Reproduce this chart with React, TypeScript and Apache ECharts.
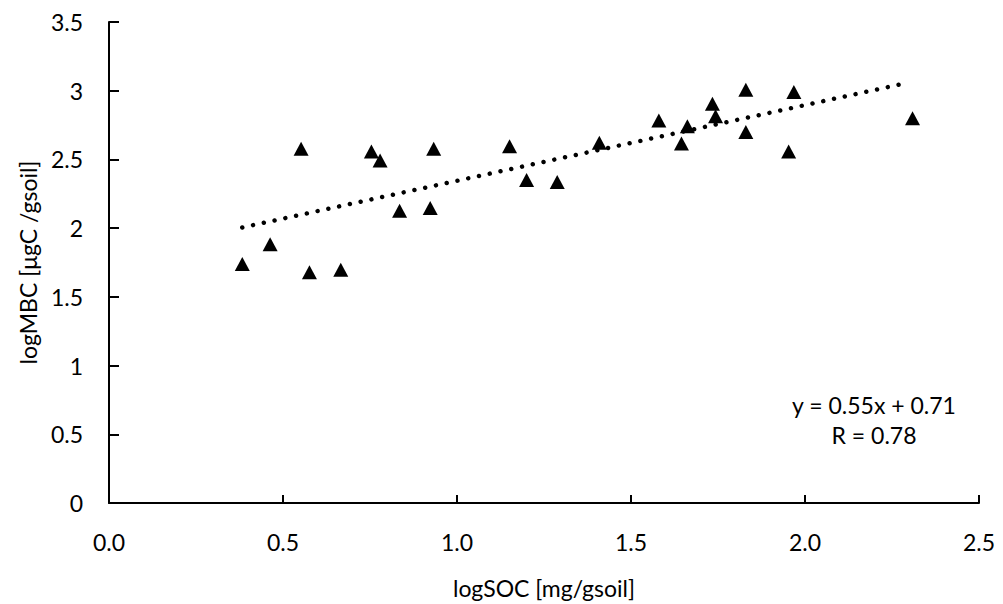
import React, { useEffect, useRef } from "react";
import * as echarts from "echarts";

const socValues = [0.383, 0.463, 0.552, 0.576, 0.666, 0.754, 0.779, 0.835, 0.923, 0.933, 1.151, 1.2, 1.288, 1.409, 1.58, 1.645, 1.662, 1.734, 1.743, 1.83, 1.83, 1.953, 1.968, 2.309];
const mbcValues = [1.739, 1.882, 2.577, 1.679, 1.698, 2.558, 2.493, 2.126, 2.147, 2.577, 2.596, 2.35, 2.336, 2.621, 2.783, 2.616, 2.741, 2.906, 2.814, 3.007, 2.7, 2.558, 2.99, 2.799];
const trendX = [0.383, 2.283];
const trendY = [2.005, 3.051];
const equationLines = ["y = 0.55x + 0.71", "R = 0.78"];
const xTitle = "logSOC [mg/gsoil]";
const yTitle = "logMBC [μgC /gsoil]";

const FONT = "Lato, 'Open Sans', sans-serif";
const FS = 23;

export default function App() {
  const ref = useRef<HTMLDivElement>(null);
  useEffect(() => {
    document.body.style.margin = "0";
    if (!ref.current) return;
    const chart = echarts.init(ref.current, null, { renderer: "svg" });
    const points = socValues.map((x, i) => [x, mbcValues[i]]);
    const trend = trendX.map((x, i) => [x, trendY[i]]);
    chart.setOption({
      animation: false,
      backgroundColor: "#ffffff",
      textStyle: { fontFamily: FONT },
      grid: { left: 109, right: 24, top: 22, bottom: 99, containLabel: false },
      xAxis: {
        type: "value",
        min: 0,
        max: 2.5,
        interval: 0.5,
        name: xTitle,
        nameLocation: "middle",
        nameGap: 73,
        nameTextStyle: { fontSize: FS, color: "#000", fontFamily: FONT },
        axisLine: { show: true, onZero: false, lineStyle: { color: "#000", width: 2 } },
        axisTick: { show: true, inside: true, length: 8, lineStyle: { color: "#000", width: 2 } },
        axisLabel: {
          fontSize: FS,
          color: "#000",
          fontFamily: FONT,
          margin: 27,
          formatter: (v: number) => v.toFixed(1),
        },
        splitLine: { show: false },
      },
      yAxis: {
        type: "value",
        min: 0,
        max: 3.5,
        interval: 0.5,
        name: yTitle,
        nameLocation: "middle",
        nameGap: 69,
        nameRotate: 90,
        nameTextStyle: { fontSize: FS, color: "#000", fontFamily: FONT },
        axisLine: { show: true, onZero: false, lineStyle: { color: "#000", width: 2 } },
        axisTick: { show: true, inside: true, length: 10, lineStyle: { color: "#000", width: 2 } },
        axisLabel: { fontSize: FS, color: "#000", fontFamily: FONT, margin: 26 },
        splitLine: { show: false },
      },
      series: [
        {
          type: "scatter",
          data: points,
          symbol: "triangle",
          symbolSize: [15, 14],
          itemStyle: { color: "#000", opacity: 1 },
          z: 2,
        },
        {
          type: "line",
          data: trend,
          showSymbol: false,
          symbol: "none",
          lineStyle: { color: "#000", width: 4.5, type: [0.01, 11], cap: "round", opacity: 1 },
          z: 3,
        },
      ],
      graphic: equationLines.map((t, i) => ({
        type: "text",
        x: 874,
        y: 405 + i * 30,
        style: {
          text: t,
          fontSize: FS,
          fontFamily: FONT,
          fill: "#000",
          align: "center",
          verticalAlign: "middle",
        },
      })),
    });
    return () => chart.dispose();
  }, []);
  return <div ref={ref} style={{ width: 1003, height: 604 }} />;
}
